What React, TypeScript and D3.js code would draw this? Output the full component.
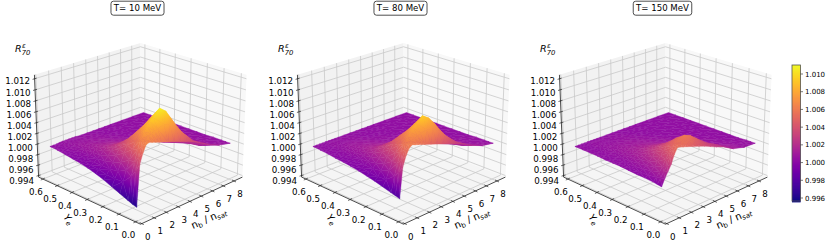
import React, { useEffect, useRef } from "react";
import * as d3 from "d3";

const titles = ["T= 10 MeV", "T= 80 MeV", "T= 150 MeV"];
const panelShift = [0, 263, 525];

const nbGrid = [0, 0.25, 0.5, 0.75, 1, 1.25, 1.5, 1.75, 2, 2.5, 3, 3.5, 4, 4.5, 5, 6, 7, 8];
const yeGrid = [0, 0.025, 0.05, 0.1, 0.15, 0.2, 0.25, 0.3, 0.35, 0.4, 0.45, 0.5, 0.55];

// (R - 1) * 10^4, one row per yeGrid entry, one column per nbGrid entry
const surface10 = [
  [-38, 35, 52, 64, 66, 64, 62, 60, 58, 54, 50, 46, 42, 38, 33, 20, 10, 5],
  [-36, 20, 42, 58, 68, 72, 74, 76, 78, 82, 78, 68, 56, 44, 32, 16, 8, 5],
  [-33, 8, 30, 50, 66, 76, 84, 90, 95, 107, 98, 80, 62, 46, 30, 12, 7, 5],
  [-27, -8, 10, 26, 42, 54, 64, 72, 78, 86, 78, 62, 47, 33, 22, 10, 6, 5],
  [-21, -9, 2, 16, 30, 42, 50, 56, 59, 61, 54, 43, 32, 23, 15, 8, 5, 4],
  [-15, -8, 0, 10, 20, 29, 35, 39, 41, 42, 37, 29, 21, 15, 10, 6, 5, 4],
  [-10, -5, 0, 6, 13, 20, 25, 28, 28, 27, 23, 18, 13, 10, 7, 5, 4, 4],
  [-6, -3, 0, 4, 9, 14, 18, 19, 19, 18, 15, 12, 9, 7, 5, 4, 4, 4],
  [-3, -1, 1, 4, 8, 11, 13, 14, 14, 13, 11, 9, 7, 5, 4, 4, 4, 4],
  [-1, 0, 2, 4, 7, 9, 10, 11, 10, 9, 8, 6, 5, 4, 4, 4, 4, 4],
  [1, 1, 3, 5, 6, 8, 8, 8, 8, 7, 6, 5, 4, 4, 4, 4, 4, 4],
  [3, 3, 4, 5, 6, 6, 6, 6, 6, 5, 5, 4, 4, 4, 4, 4, 4, 4],
  [4, 4, 4, 5, 5, 5, 5, 5, 5, 4, 4, 4, 4, 4, 4, 4, 4, 4],
];
const surface80 = [
  [-23, 30, 47, 58, 62, 60, 58, 56, 54, 50, 46, 42, 38, 34, 30, 18, 9, 5],
  [-21, 18, 38, 52, 60, 64, 66, 68, 70, 73, 70, 62, 51, 40, 30, 16, 8, 5],
  [-19, 8, 28, 46, 58, 67, 74, 80, 84, 94, 86, 72, 56, 41, 28, 12, 7, 5],
  [-15, -4, 10, 23, 36, 47, 56, 63, 68, 74, 68, 55, 42, 31, 20, 9, 6, 5],
  [-11, -5, 3, 13, 24, 34, 43, 49, 52, 54, 48, 38, 29, 20, 13, 7, 5, 4],
  [-8, -4, 1, 8, 15, 24, 30, 34, 36, 36, 32, 25, 18, 13, 9, 5, 4, 4],
  [-5, -2, 1, 5, 11, 17, 21, 24, 24, 23, 20, 15, 11, 8, 6, 4, 4, 4],
  [-3, -1, 1, 4, 8, 12, 15, 16, 16, 15, 13, 10, 8, 6, 5, 4, 4, 4],
  [-1, 0, 2, 4, 7, 9, 11, 12, 12, 11, 9, 7, 6, 5, 4, 4, 4, 4],
  [0, 1, 2, 4, 6, 8, 9, 9, 9, 8, 7, 5, 5, 4, 4, 4, 4, 4],
  [2, 2, 3, 4, 5, 6, 7, 7, 7, 6, 5, 4, 4, 4, 4, 4, 4, 4],
  [3, 3, 4, 4, 5, 5, 5, 5, 5, 5, 4, 4, 4, 4, 4, 4, 4, 4],
  [4, 4, 4, 4, 4, 4, 4, 4, 4, 4, 4, 4, 4, 4, 4, 4, 4, 4],
];
const surface150 = [
  [-2, 10, 20, 30, 45, 55, 54, 52, 50, 46, 42, 38, 33, 28, 24, 12, 6, 5],
  [-1, 8, 16, 25, 38, 48, 52, 54, 55, 54, 48, 42, 35, 29, 24, 12, 6, 5],
  [0, 6, 13, 21, 31, 41, 48, 53, 56, 60, 55, 46, 37, 29, 23, 11, 6, 5],
  [1, 4, 9, 14, 21, 29, 36, 42, 46, 49, 45, 37, 29, 22, 16, 8, 5, 4],
  [1, 3, 6, 10, 15, 21, 27, 31, 34, 36, 33, 27, 21, 16, 12, 6, 4, 4],
  [2, 3, 5, 8, 11, 15, 19, 23, 25, 26, 24, 19, 15, 11, 9, 5, 4, 4],
  [3, 3, 4, 6, 9, 12, 14, 16, 18, 19, 17, 14, 11, 9, 7, 4, 4, 4],
  [3, 3, 4, 5, 8, 9, 11, 12, 13, 13, 12, 10, 8, 7, 5, 4, 4, 4],
  [3, 3, 4, 5, 6, 8, 9, 10, 10, 10, 9, 8, 6, 5, 4, 4, 4, 4],
  [4, 4, 4, 5, 6, 7, 7, 8, 8, 8, 7, 6, 5, 4, 4, 4, 4, 4],
  [4, 4, 4, 4, 5, 6, 6, 6, 6, 6, 6, 5, 4, 4, 4, 4, 4, 4],
  [4, 4, 4, 4, 5, 5, 5, 5, 5, 5, 5, 4, 4, 4, 4, 4, 4, 4],
  [4, 4, 4, 4, 4, 4, 4, 4, 4, 4, 4, 4, 4, 4, 4, 4, 4, 4],
];
const surfaces = [surface10, surface80, surface150];

const zTicks = [0.994, 0.996, 0.998, 1.0, 1.002, 1.004, 1.006, 1.008, 1.01, 1.012];
const nbTicks = [0, 1, 2, 3, 4, 5, 6, 7, 8];
const yeTicks = [0, 0.1, 0.2, 0.3, 0.4, 0.5, 0.6];
const barTicks = [0.996, 0.998, 1.0, 1.002, 1.004, 1.006, 1.008, 1.01];

const font = "'DejaVu Sans', sans-serif";
const gridColor = "#c9c9c9";

// view of the box, same idea as matplotlib's mplot3d camera
const elev = (22 * Math.PI) / 180;
const cam = 7;
const zoom = 147;
const c45 = Math.SQRT1_2;

const project = (x: number, y: number, z: number) => {
  const right = c45 * (x - y);
  const up = c45 * (x + y) * Math.sin(elev) + z * Math.cos(elev);
  const depth = -c45 * (x + y) * Math.cos(elev) + z * Math.sin(elev);
  const f = cam / (cam - depth);
  return { px: 140.5 + zoom * right * f, py: 127 - zoom * up * f, depth };
};

const App = () => {
  const svgRef = useRef<SVGSVGElement>(null);

  useEffect(() => {
    const svg = d3.select(svgRef.current);
    svg.selectAll("*").remove();

    const xs = d3.scaleLinear().domain([-0.1, 8.8]).range([-0.5, 0.5]);
    const ys = d3.scaleLinear().domain([-0.03, 0.63]).range([-0.5, 0.5]);
    const zs = d3.scaleLinear().domain([0.9937, 1.0127]).range([-0.375, 0.375]);
    const color = d3
      .scaleSequential(d3.interpolatePlasma)
      .domain([0.99566, 1.01102]);

    const defs = svg.append("defs");
    const P = (nb: number, ye: number, z: number) => project(xs(nb), ys(ye), zs(z));
    const [xMin, xMax] = xs.domain();
    const [yMin, yMax] = ys.domain();
    const [zMin, zMax] = zs.domain();

    const poly = (pts: { px: number; py: number }[]) =>
      pts.map((p) => `${p.px.toFixed(2)},${p.py.toFixed(2)}`).join(" ");

    titles.forEach((title, idx) => {
      const g = svg.append("g").attr("transform", `translate(${panelShift[idx]},0)`);

      // panes
      g.append("polygon")
        .attr("points", poly([P(xMin, yMax, zMin), P(xMax, yMax, zMin), P(xMax, yMax, zMax), P(xMin, yMax, zMax)]))
        .attr("fill", "#f2f2f2");
      g.append("polygon")
        .attr("points", poly([P(xMax, yMin, zMin), P(xMax, yMax, zMin), P(xMax, yMax, zMax), P(xMax, yMin, zMax)]))
        .attr("fill", "#f8f8f8");
      g.append("polygon")
        .attr("points", poly([P(xMin, yMin, zMin), P(xMax, yMin, zMin), P(xMax, yMax, zMin), P(xMin, yMax, zMin)]))
        .attr("fill", "#f5f5f5");

      const line = (a: any, b: any, stroke: string, w: number) =>
        g.append("line")
          .attr("x1", a.px).attr("y1", a.py).attr("x2", b.px).attr("y2", b.py)
          .attr("stroke", stroke).attr("stroke-width", w);

      // grid
      nbTicks.forEach((t) => {
        line(P(t, yMin, zMin), P(t, yMax, zMin), gridColor, 0.8);
        line(P(t, yMax, zMin), P(t, yMax, zMax), gridColor, 0.8);
      });
      yeTicks.forEach((t) => {
        line(P(xMin, t, zMin), P(xMax, t, zMin), gridColor, 0.8);
        line(P(xMax, t, zMin), P(xMax, t, zMax), gridColor, 0.8);
      });
      zTicks.forEach((t) => {
        line(P(xMin, yMax, t), P(xMax, yMax, t), gridColor, 0.8);
        line(P(xMax, yMin, t), P(xMax, yMax, t), gridColor, 0.8);
      });

      // axes lines
      line(P(xMin, yMax, zMin), P(xMin, yMax, zMax), "#222", 0.8);
      line(P(xMin, yMin, zMin), P(xMin, yMax, zMin), "#222", 0.8);
      line(P(xMin, yMin, zMin), P(xMax, yMin, zMin), "#222", 0.8);

      // surface, split in triangles so each one can get an exact linear gradient
      const data = surfaces[idx];
      const vertex = (a: number, b: number) => {
        const v = 1 + data[b][a] / 10000;
        return { ...P(nbGrid[a], yeGrid[b], v), v };
      };
      const tris: any[] = [];
      d3.range(yeGrid.length - 1).forEach((j) => {
        d3.range(nbGrid.length - 1).forEach((i) => {
          const p00 = vertex(i, j), p10 = vertex(i + 1, j);
          const p11 = vertex(i + 1, j + 1), p01 = vertex(i, j + 1);
          const pairs =
            Math.abs(p00.v - p11.v) < Math.abs(p10.v - p01.v)
              ? [[p00, p10, p11], [p00, p11, p01]]
              : [[p00, p10, p01], [p10, p11, p01]];
          pairs.forEach((t) => tris.push({ t, depth: d3.mean(t, (q: any) => q.depth) }));
        });
      });
      tris.sort((a, b) => a.depth - b.depth);
      tris.forEach((tri, n) => {
        const [a, b, c] = [...tri.t].sort((p: any, q: any) => p.v - q.v);
        let fill = color(a.v) as string;
        if (c.v - a.v > 1e-7) {
          const s = (b.v - a.v) / (c.v - a.v);
          const isoX = a.px + (c.px - a.px) * s - b.px;
          const isoY = a.py + (c.py - a.py) * s - b.py;
          const len = Math.hypot(isoX, isoY) || 1;
          const nx = -isoY / len, ny = isoX / len;
          const reach = (c.px - a.px) * nx + (c.py - a.py) * ny;
          const id = `t${idx}-${n}`;
          const grad = defs.append("linearGradient")
            .attr("id", id)
            .attr("gradientUnits", "userSpaceOnUse")
            .attr("x1", a.px).attr("y1", a.py)
            .attr("x2", a.px + nx * reach).attr("y2", a.py + ny * reach);
          [0, 0.33, 0.66, 1].forEach((o) => {
            grad.append("stop").attr("offset", o).attr("stop-color", color(a.v + (c.v - a.v) * o));
          });
          fill = `url(#${id})`;
        }
        g.append("polygon")
          .attr("points", poly(tri.t))
          .attr("fill", fill)
          .attr("stroke", fill)
          .attr("stroke-width", 0.4);
      });

      // ticks and labels
      zTicks.forEach((t) => {
        const p = P(xMin, yMax, t);
        line({ px: p.px - 2, py: p.py + 0.6 }, { px: p.px + 2, py: p.py - 0.6 }, "#222", 0.7);
        const slip = 2.6 * (1.012 - t) / 0.018;
        g.append("text")
          .attr("x", p.px - 4.5).attr("y", p.py + 5.6 + slip)
          .attr("text-anchor", "end").attr("font-size", 8.7).attr("font-family", font)
          .text(t.toFixed(3));
      });
      yeTicks.forEach((t) => {
        const p = P(xMin, t, zMin);
        line({ px: p.px - 2, py: p.py + 1 }, { px: p.px + 2, py: p.py - 1 }, "#222", 0.7);
        g.append("text")
          .attr("x", p.px - 7).attr("y", p.py + 16)
          .attr("text-anchor", "middle").attr("font-size", 8.7).attr("font-family", font)
          .text(t.toFixed(1));
      });
      nbTicks.forEach((t) => {
        const p = P(t, yMin, zMin);
        line({ px: p.px + 2, py: p.py + 1 }, { px: p.px - 2, py: p.py - 1 }, "#222", 0.7);
        g.append("text")
          .attr("x", p.px + 6).attr("y", p.py + 16)
          .attr("text-anchor", "middle").attr("font-size", 8.7).attr("font-family", font)
          .text(t);
      });

      // axis names
      const yeLabel = g.append("text")
        .attr("transform", "translate(63,217.5) rotate(50)")
        .attr("font-size", 9.5).attr("font-family", font).attr("font-style", "italic");
      yeLabel.append("tspan").text("Y");
      yeLabel.append("tspan").attr("font-size", 6.8).attr("dy", 2).text("e");

      const nbLabel = g.append("text")
        .attr("transform", "translate(193,229) rotate(-24)")
        .attr("font-size", 10).attr("font-family", font);
      nbLabel.append("tspan").text("n");
      nbLabel.append("tspan").attr("font-size", 7).attr("dy", 2).text("b");
      nbLabel.append("tspan").attr("dy", -2).text(" / n");
      nbLabel.append("tspan").attr("font-size", 7).attr("dy", 2).attr("font-style", "italic").text("sat");

      const rLabel = g.append("text")
        .attr("x", 15).attr("y", 52)
        .attr("font-size", 9.5).attr("font-family", font).attr("font-style", "italic");
      rLabel.append("tspan").text("R");
      rLabel.append("tspan").attr("font-size", 6.8).attr("dx", 0.5).attr("dy", -4).text("ε");
      rLabel.append("tspan").attr("font-size", 6.8).attr("dx", -4).attr("dy", 7).text("70");

      // title box
      const cx = 137.5;
      const box = g.append("rect");
      const label = g.append("text")
        .attr("x", cx).attr("y", 11.3)
        .attr("text-anchor", "middle").attr("font-size", 8.6).attr("font-family", font)
        .text(title);
      const w = (label.node() as SVGTextElement).getComputedTextLength() + 5.6;
      box.attr("x", cx - w / 2).attr("y", 1.2).attr("width", w).attr("height", 14)
        .attr("rx", 2.5)
        .attr("fill", "#fff").attr("stroke", "#222").attr("stroke-width", 0.8);
    });

    // colorbar
    const barY = d3.scaleLinear().domain([0.996, 1.01]).range([198, 74]);
    const bar = svg.append("g");
    const steps = d3.range(0, 137);
    bar.selectAll("rect").data(steps).join("rect")
      .attr("x", 792).attr("width", 8.6)
      .attr("y", (d) => 65 + d).attr("height", 1.4)
      .attr("fill", (d) => color(barY.invert(65 + d + 0.5)));
    bar.append("rect")
      .attr("x", 792).attr("y", 65).attr("width", 8.6).attr("height", 136)
      .attr("fill", "none").attr("stroke", "#555").attr("stroke-width", 0.8);
    barTicks.forEach((t) => {
      bar.append("line")
        .attr("x1", 800.6).attr("x2", 803).attr("y1", barY(t)).attr("y2", barY(t))
        .attr("stroke", "#222").attr("stroke-width", 0.6);
      bar.append("text")
        .attr("x", 805).attr("y", barY(t) + 2.6)
        .attr("font-size", 7).attr("font-family", font)
        .text(t.toFixed(3));
    });
  }, []);

  return (
    <svg ref={svgRef} width={831} height={251} style={{ position: "absolute", left: 0, top: 0 }} />
  );
};

export default App;
